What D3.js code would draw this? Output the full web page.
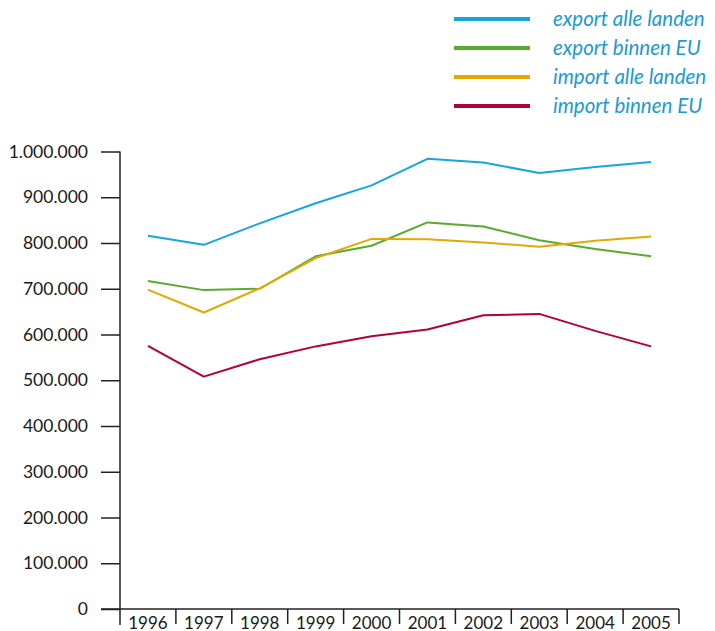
<!DOCTYPE html>
<html>
<head>
<meta charset="utf-8">
<script src="https://cdn.jsdelivr.net/npm/d3@7"></script>
<style>
  html, body { margin: 0; padding: 0; background: #fff; }
  svg { display: block; }
</style>
</head>
<body>
<svg id="chart" width="715" height="631"></svg>
<script>
const years = ["1996","1997","1998","1999","2000","2001","2002","2003","2004","2005"];
const exportAlle  = [816000, 796000, 843000, 887000, 926000, 984000, 976000, 953000, 966000, 977000];
const exportEU    = [717000, 697000, 700000, 771000, 794000, 845000, 836000, 806000, 787000, 771000];
const importAlle  = [698000, 648000, 701000, 767000, 809000, 808000, 801000, 792000, 805000, 814000];
const importEU    = [575000, 508000, 546000, 574000, 596000, 611000, 642000, 645000, 608000, 574000];
const seriesNames = ["export alle landen", "export binnen EU", "import alle landen", "import binnen EU"];
const seriesColors = ["#16a6df", "#5aab2d", "#e5a800", "#b1003b"];
const yTicks = [0, 100000, 200000, 300000, 400000, 500000, 600000, 700000, 800000, 900000, 1000000];

const series = [exportAlle, exportEU, importAlle, importEU].map((v, i) => ({
  name: seriesNames[i], color: seriesColors[i], values: v
}));

const svg = d3.select("#chart");
const x0 = 120, x1 = 679, yTop = 151.5, yBot = 609;

const x = d3.scaleBand().domain(years).range([x0, x1]).padding(0);
const y = d3.scaleLinear().domain([0, 1000000]).range([yBot, yTop]);

const fmt = v => d3.format(",")(v).replace(/,/g, ".");

// Y axis
const yAxis = d3.axisLeft(y).tickValues(yTicks).tickFormat(fmt).tickSize(19).tickPadding(13);
const gy = svg.append("g").attr("transform", `translate(${x0},0)`).call(yAxis);
gy.select(".domain").remove();
gy.selectAll(".tick line").attr("stroke", "#222").attr("stroke-width", 1.5);
gy.selectAll(".tick text").attr("font-family", "Lato, 'Noto Sans', sans-serif")
  .attr("font-size", 17.5).attr("fill", "#1a1a1a");
// vertical axis line
svg.append("line").attr("x1", x0).attr("x2", x0).attr("y1", yTop).attr("y2", 625)
  .attr("stroke", "#222").attr("stroke-width", 1.5);

// X axis baseline
svg.append("line").attr("x1", 101).attr("x2", x1).attr("y1", yBot).attr("y2", yBot)
  .attr("stroke", "#222").attr("stroke-width", 1.5);
// separators
const bounds = years.slice(1).map(d => x(d)).concat([x1]);
svg.append("g").selectAll("line").data(bounds).join("line")
  .attr("x1", d => d).attr("x2", d => d).attr("y1", yBot).attr("y2", 624)
  .attr("stroke", "#222").attr("stroke-width", 1.5);
// labels
svg.append("g").selectAll("text").data(years).join("text")
  .attr("x", d => x(d) + x.bandwidth() / 2).attr("y", 628.5)
  .attr("text-anchor", "middle")
  .attr("font-family", "Lato, 'Noto Sans', sans-serif").attr("font-size", 17)
  .attr("fill", "#1a1a1a").text(d => d);

// Lines
const line = d3.line().x((d, i) => x(years[i]) + x.bandwidth() / 2).y(d => y(d));
svg.append("g").selectAll("path").data(series).join("path")
  .attr("d", d => line(d.values)).attr("fill", "none")
  .attr("stroke", d => d.color).attr("stroke-width", 2).attr("stroke-linejoin", "round");

// Legend
const lg = svg.append("g").selectAll("g").data(series).join("g")
  .attr("transform", (d, i) => `translate(0, ${19 + i * 29})`);
lg.append("line").attr("x1", 454).attr("x2", 530).attr("y1", 0).attr("y2", 0)
  .attr("stroke", d => d.color).attr("stroke-width", 4);
lg.append("text").attr("x", 553).attr("y", 6.5)
  .attr("font-family", "Lato, 'Noto Sans', sans-serif").attr("font-style", "italic")
  .attr("font-size", 20.5).attr("fill", "#1a9ad6").text(d => d.name);
</script>
</body>
</html>
